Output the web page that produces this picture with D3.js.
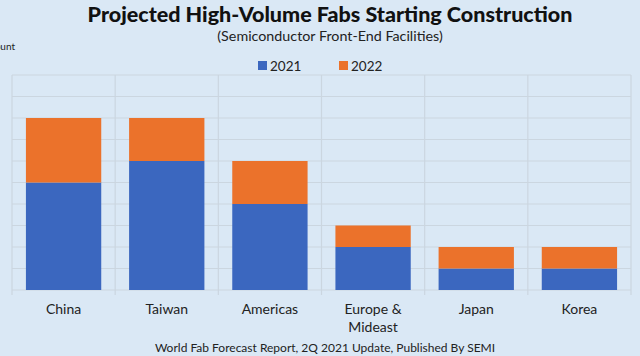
<!DOCTYPE html>
<html><head><meta charset="utf-8">
<script src="https://cdn.jsdelivr.net/npm/d3@7"></script>
<style>body{margin:0;background:#dae8f5;} svg{display:block;}</style>
</head><body>
<script>
const categories = ["China", "Taiwan", "Americas", "Europe & Mideast", "Japan", "Korea"];
const series = ["2021", "2022"];
const values2021 = [5, 6, 4, 2, 1, 1];
const values2022 = [3, 2, 2, 1, 1, 1];
const yTicks = [0,1,2,3,4,5,6,7,8,9,10];
const colors = ["#3b67bf", "#eb722b"];

const W = 640, H = 356;
const margin = {left: 12, right: 9, top: 75, bottom: 66};
const svg = d3.select("body").append("svg").attr("width", W).attr("height", H);
svg.append("rect").attr("width", W).attr("height", H).attr("fill", "#dae8f5");

const x = d3.scaleBand().domain(categories).range([margin.left, W - margin.right]).paddingInner(0.27).paddingOuter(0.135);
const xb = d3.scaleBand().domain(categories).range([margin.left, W - margin.right]);
const y = d3.scaleLinear().domain([0, 10]).range([H - margin.bottom, margin.top]);

const font = "Lato, 'Open Sans', sans-serif";
// grid
const g = svg.append("g");
g.selectAll(".h").data(yTicks).join("line")
  .attr("x1", margin.left).attr("x2", W - margin.right)
  .attr("y1", d => y(d)).attr("y2", d => y(d))
  .attr("stroke", "#cbd6e0").attr("stroke-width", 1.2);
const bounds = categories.map(c => xb(c)).concat([W - margin.right]);
g.selectAll(".v").data(bounds).join("line")
  .attr("x1", d => d).attr("x2", d => d)
  .attr("y1", y(10)).attr("y2", y(0) + 5)
  .attr("stroke", "#cbd6e0").attr("stroke-width", 1.2);

// stack
const rows = categories.map((c, i) => ({cat: c, "2021": values2021[i], "2022": values2022[i]}));
const stacked = d3.stack().keys(series)(rows);
svg.append("g").selectAll("g").data(stacked).join("g")
  .attr("fill", (d, i) => colors[i])
  .selectAll("rect").data(d => d).join("rect")
  .attr("x", d => x(d.data.cat)).attr("width", x.bandwidth())
  .attr("y", d => y(d[1])).attr("height", d => y(d[0]) - y(d[1]));

// category labels
const lab = svg.append("g").attr("font-family", font).attr("font-size", 14).attr("fill", "#222").attr("text-anchor", "middle");
categories.forEach(c => {
  const cx = xb(c) + xb.bandwidth() / 2;
  const parts = c === "Europe & Mideast" ? ["Europe &", "Mideast"] : [c];
  parts.forEach((p, j) => lab.append("text").attr("x", cx).attr("y", 314 + j * 18).text(p));
});

// titles
svg.append("text").attr("x", 330).attr("y", 22).attr("text-anchor", "middle")
  .attr("font-family", font).attr("font-weight", "900").attr("font-size", 21.5).attr("fill", "#111")
  .text("Projected High-Volume Fabs Starting Construction");
svg.append("text").attr("x", 330).attr("y", 41).attr("text-anchor", "middle")
  .attr("font-family", font).attr("font-size", 14.3).attr("fill", "#222")
  .text("(Semiconductor Front-End Facilities)");
svg.append("text").attr("x", 15).attr("y", 50).attr("text-anchor", "end")
  .attr("font-family", font).attr("font-size", 10).attr("fill", "#222").text("Count");

// legend
const lg = svg.append("g").attr("font-family", font).attr("font-size", 13.5).attr("fill", "#222");
const legX = [258, 339];
series.forEach((s, i) => {
  lg.append("rect").attr("x", legX[i]).attr("y", 61).attr("width", 9).attr("height", 9).attr("fill", colors[i]);
  lg.append("text").attr("x", legX[i] + 12).attr("y", 70.5).text(s);
});

svg.append("text").attr("x", 325).attr("y", 352).attr("text-anchor", "middle")
  .attr("font-family", font).attr("font-size", 12).attr("fill", "#222")
  .text("World Fab Forecast Report, 2Q 2021 Update, Published By SEMI");
</script>
</body></html>
